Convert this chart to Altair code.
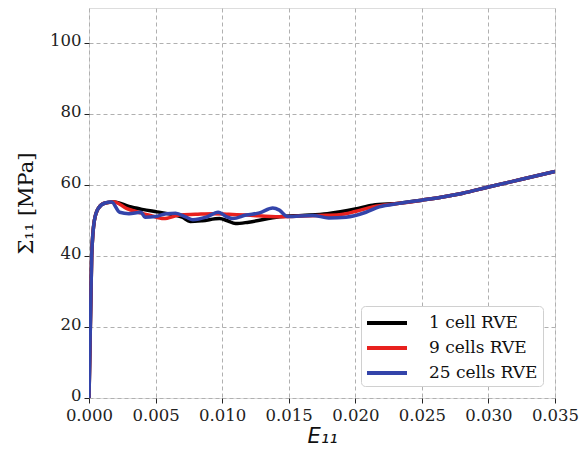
import altair as alt
import pandas as pd

x_one = [0.0, 0.0002, 0.0004, 0.0007, 0.0012, 0.0019, 0.0030, 0.0040, 0.0051, 0.0062, 0.0070, 0.0076, 0.0085, 0.0098, 0.0104, 0.0110, 0.0120, 0.0143, 0.0160, 0.0179, 0.0200, 0.0213, 0.0233, 0.0250, 0.0280, 0.0300, 0.0325, 0.0350]
y_one = [0.0, 40.0, 50.0, 53.5, 55.0, 55.3, 54.0, 53.2, 52.5, 51.8, 51.0, 49.8, 50.0, 50.6, 50.0, 49.2, 49.6, 51.1, 51.5, 52.0, 53.3, 54.4, 54.9, 55.8, 57.7, 59.5, 61.7, 63.9]

x_nine = [0.0, 0.0002, 0.0004, 0.0007, 0.0012, 0.0019, 0.0028, 0.0036, 0.0046, 0.0056, 0.0068, 0.0080, 0.0093, 0.0105, 0.0118, 0.0143, 0.0160, 0.0173, 0.0188, 0.0200, 0.0213, 0.0233, 0.0250, 0.0280, 0.0300, 0.0325, 0.0350]
y_nine = [0.0, 40.0, 50.0, 53.5, 55.0, 55.3, 53.5, 52.5, 51.5, 50.6, 51.6, 51.8, 52.0, 51.8, 51.6, 51.1, 51.3, 51.5, 51.7, 52.6, 53.9, 54.9, 55.8, 57.7, 59.5, 61.7, 63.9]

x_twentyfive = [0.0, 0.0002, 0.0004, 0.0007, 0.0012, 0.0017, 0.0023, 0.0030, 0.0039, 0.0042, 0.0050, 0.0058, 0.0065, 0.0073, 0.0078, 0.0088, 0.0097, 0.0104, 0.0108, 0.0118, 0.0128, 0.0138, 0.0143, 0.0149, 0.0168, 0.0180, 0.0193, 0.0208, 0.0218, 0.0233, 0.0250, 0.0280, 0.0300, 0.0325, 0.0350]
y_twentyfive = [0.0, 40.0, 50.0, 53.5, 55.0, 55.3, 52.4, 52.0, 52.4, 51.0, 51.2, 52.0, 52.1, 51.0, 50.3, 51.0, 52.4, 51.0, 50.6, 51.6, 52.2, 53.6, 53.0, 51.2, 51.5, 50.8, 51.0, 52.4, 53.9, 54.9, 55.8, 57.7, 59.5, 61.7, 63.9]

series_names = ["1 cell RVE", "9 cells RVE", "25 cells RVE"]
series_colors = ["#000000", "#e8211e", "#3344aa"]
x_ticks = [0.0, 0.005, 0.01, 0.015, 0.02, 0.025, 0.03, 0.035]
y_ticks = [0, 20, 40, 60, 80, 100]

rows = []
for name, xs, ys in zip(series_names, [x_one, x_nine, x_twentyfive], [y_one, y_nine, y_twentyfive]):
    for i, (a, b) in enumerate(zip(xs, ys)):
        rows.append({"series": name, "E": a, "S": b, "order": i})
df = pd.DataFrame(rows)

chart = alt.Chart(df).mark_line(strokeWidth=3.5, interpolate="monotone", clip=True).encode(
    x=alt.X("E:Q", scale=alt.Scale(domain=[0, 0.035], nice=False, zero=False),
            axis=alt.Axis(values=x_ticks, format=".3f", title="E₁₁", titleFont="DejaVu Sans",
                          titleFontStyle="italic", titleFontWeight="normal", titleFontSize=21,
                          titlePadding=2, labelFont="DejaVu Serif", labelFontSize=16.5, labelColor="#222222",
                          labelPadding=4, labelFlush=False, labelOverlap=False, labelBound=False,
                          tickSize=5, tickColor="#222222", domain=False,
                          gridDash=[4, 3], gridColor="#b0b0b0", gridWidth=1, titleColor="#111111")),
    y=alt.Y("S:Q", scale=alt.Scale(domain=[0, 110], nice=False),
            axis=alt.Axis(values=y_ticks, title="Σ₁₁ [MPa]", titleFont="DejaVu Serif",
                          titleFontWeight="normal", titleFontSize=21, titlePadding=13,
                          labelFont="DejaVu Serif", labelFontSize=16.5, labelColor="#222222",
                          labelPadding=3, labelOffset=-3, labelFlush=False, labelOverlap=False,
                          labelBound=False, tickSize=5, tickColor="#222222", domain=False,
                          gridDash=[4, 3], gridColor="#b0b0b0", gridWidth=1, titleColor="#111111")),
    color=alt.Color("series:N", scale=alt.Scale(domain=series_names, range=series_colors),
                    legend=alt.Legend(title=None, orient="none", legendX=272, legendY=298,
                                      symbolType="M-1.1,0H2.9", symbolSize=400, symbolStrokeWidth=4,
                                      labelOffset=39, labelFont="DejaVu Serif", labelFontSize=17,
                                      labelColor="#111111", rowPadding=5, padding=5,
                                      strokeColor="#d0d0d0", fillColor="#ffffff", cornerRadius=4)),
    order="order:Q",
).properties(
    width=466, height=390,
    autosize=alt.AutoSizeParams(type="none"),
    padding={"left": 81, "top": 0, "right": 25, "bottom": 52},
).configure_view(stroke="#000000", strokeWidth=1.2).configure(background="#ffffff")

chart.save("out.html", embed_options={"renderer": "svg", "actions": False})
